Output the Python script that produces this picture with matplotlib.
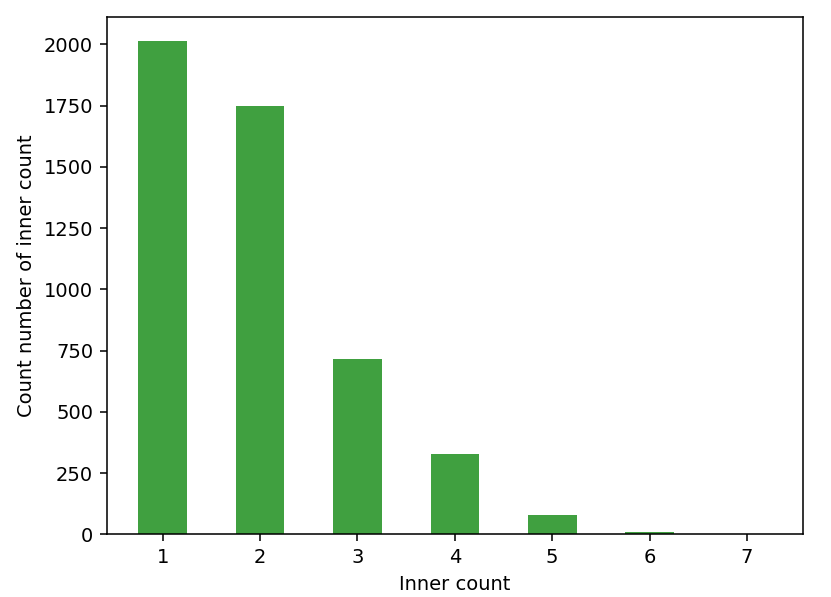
import matplotlib
matplotlib.use('Agg')
import matplotlib.pyplot as plt

# Distribution of inner counts
inner_counts = [1, 2, 3, 4, 5, 6, 7]
num_records  = [2012, 1749, 716, 326, 80, 11, 1]

dpi = 140
fig = plt.figure( figsize=(831 / dpi, 597 / dpi), dpi=dpi )
ax  = fig.add_axes( [0.1284, 0.105, 0.8379, 0.867] )

ax.bar( inner_counts, num_records, width=0.5, color='g', alpha=0.75 )
ax.set_xticks( inner_counts )
ax.set_xlabel( 'Inner count' )
ax.set_ylabel( 'Count number of inner count' )

fig.savefig( 'out.png', dpi=dpi )
